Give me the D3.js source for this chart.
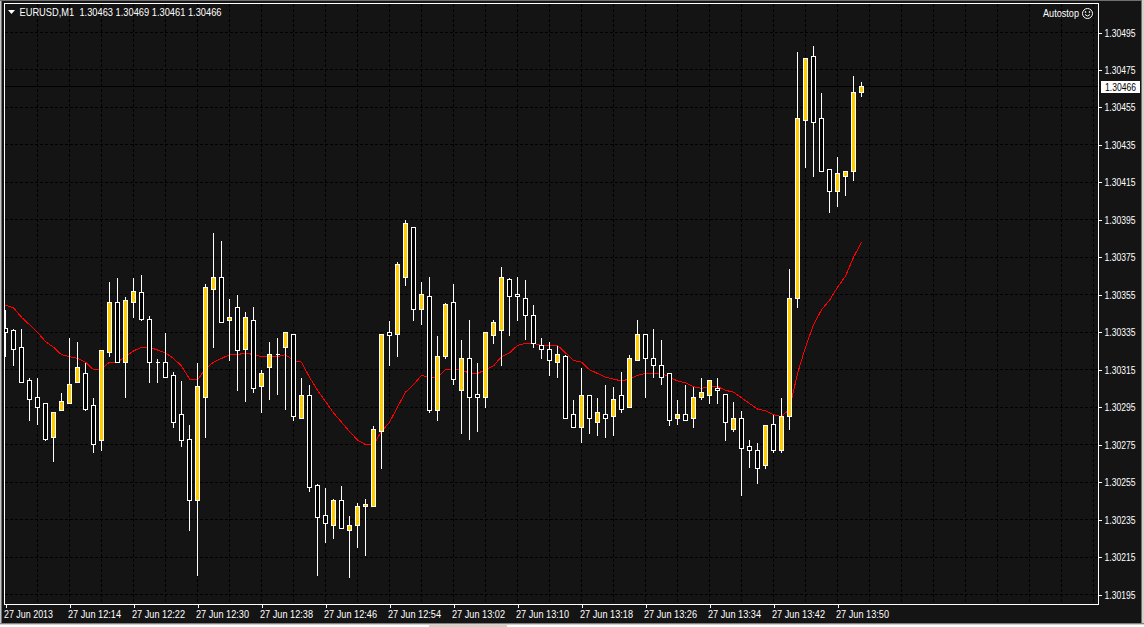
<!DOCTYPE html>
<html>
<head>
<meta charset="utf-8">
<title>EURUSD,M1</title>
<script src="https://cdn.jsdelivr.net/npm/d3@7"></script>
<style>
  html, body { margin: 0; padding: 0; background: #141414; overflow: hidden; }
  svg { display: block; }
  text { font-family: "Liberation Sans", sans-serif; font-size: 11px; fill: #fff; }
  .crisp { shape-rendering: crispEdges; }
</style>
</head>
<body>
<div id="chart"></div>
<script>
const opens = [1.30337,1.30336,1.30327,1.30309,1.30300,1.30297,1.30279,1.30293,1.30297,1.30308,1.30313,1.30296,1.30277,1.30324,1.30351,1.30319,1.30351,1.30356,1.30342,1.30319,1.30319,1.30312,1.30291,1.30278,1.30245,1.30300,1.30358,1.30364,1.30341,1.30348,1.30326,1.30341,1.30306,1.30316,1.30323,1.30327,1.30334,1.30289,1.30301,1.30253,1.30237,1.30232,1.30245,1.30229,1.30232,1.30242,1.30242,1.30282,1.30335,1.30334,1.30364,1.30391,1.30347,1.30354,1.30293,1.30322,1.30351,1.30304,1.30321,1.30302,1.30300,1.30333,1.30336,1.30363,1.30355,1.30353,1.30344,1.30328,1.30326,1.30319,1.30322,1.30291,1.30284,1.30301,1.30287,1.30291,1.30290,1.30301,1.30295,1.30320,1.30334,1.30321,1.30317,1.30313,1.30289,1.30291,1.30289,1.30300,1.30301,1.30305,1.30302,1.30283,1.30289,1.30274,1.30272,1.30264,1.30286,1.30272,1.30290,1.30353,1.30448,1.30482,1.30449,1.30422,1.30410,1.30418,1.30421,1.30463];
const highs = [1.30347,1.30337,1.30337,1.30311,1.30311,1.30297,1.30292,1.30303,1.30332,1.30330,1.30319,1.30300,1.30325,1.30362,1.30364,1.30354,1.30364,1.30366,1.30344,1.30321,1.30335,1.30314,1.30309,1.30286,1.30319,1.30361,1.30388,1.30384,1.30353,1.30355,1.30346,1.30349,1.30315,1.30330,1.30332,1.30335,1.30334,1.30311,1.30307,1.30254,1.30252,1.30246,1.30253,1.30237,1.30244,1.30246,1.30285,1.30334,1.30341,1.30373,1.30395,1.30391,1.30362,1.30365,1.30333,1.30351,1.30361,1.30331,1.30342,1.30319,1.30335,1.30342,1.30370,1.30364,1.30365,1.30363,1.30350,1.30332,1.30330,1.30328,1.30323,1.30299,1.30316,1.30302,1.30300,1.30307,1.30306,1.30314,1.30323,1.30342,1.30334,1.30337,1.30331,1.30313,1.30299,1.30307,1.30306,1.30311,1.30309,1.30311,1.30302,1.30298,1.30293,1.30278,1.30276,1.30285,1.30291,1.30300,1.30369,1.30485,1.30481,1.30488,1.30463,1.30422,1.30429,1.30421,1.30472,1.30469];
const lows = [1.30322,1.30317,1.30308,1.30288,1.30286,1.30277,1.30266,1.30293,1.30297,1.30308,1.30293,1.30271,1.30272,1.30322,1.30319,1.30300,1.30343,1.30341,1.30308,1.30308,1.30311,1.30284,1.30274,1.30229,1.30205,1.30279,1.30327,1.30340,1.30320,1.30304,1.30298,1.30303,1.30292,1.30299,1.30302,1.30294,1.30288,1.30289,1.30250,1.30205,1.30223,1.30225,1.30230,1.30204,1.30220,1.30216,1.30242,1.30262,1.30317,1.30322,1.30360,1.30341,1.30339,1.30292,1.30288,1.30321,1.30307,1.30281,1.30278,1.30282,1.30295,1.30329,1.30317,1.30333,1.30341,1.30331,1.30327,1.30321,1.30312,1.30311,1.30289,1.30284,1.30276,1.30281,1.30280,1.30279,1.30280,1.30292,1.30295,1.30320,1.30300,1.30311,1.30307,1.30285,1.30286,1.30288,1.30284,1.30299,1.30297,1.30297,1.30277,1.30282,1.30248,1.30263,1.30254,1.30262,1.30271,1.30271,1.30283,1.30348,1.30423,1.30418,1.30421,1.30399,1.30402,1.30408,1.30416,1.30461];
const closes = [1.30335,1.30326,1.30308,1.30299,1.30295,1.30278,1.30292,1.30298,1.30307,1.30316,1.30294,1.30275,1.30325,1.30351,1.30319,1.30352,1.30357,1.30342,1.30319,1.30319,1.30311,1.30287,1.30277,1.30245,1.30306,1.30359,1.30364,1.30340,1.30343,1.30325,1.30343,1.30305,1.30313,1.30323,1.30323,1.30335,1.30290,1.30301,1.30252,1.30236,1.30233,1.30245,1.30230,1.30232,1.30242,1.30243,1.30283,1.30334,1.30333,1.30371,1.30393,1.30347,1.30355,1.30293,1.30322,1.30350,1.30310,1.30321,1.30300,1.30300,1.30335,1.30340,1.30364,1.30354,1.30354,1.30344,1.30329,1.30326,1.30320,1.30323,1.30289,1.30284,1.30301,1.30289,1.30292,1.30289,1.30299,1.30294,1.30321,1.30334,1.30321,1.30317,1.30311,1.30288,1.30291,1.30288,1.30300,1.30303,1.30309,1.30304,1.30287,1.30289,1.30273,1.30272,1.30262,1.30285,1.30272,1.30290,1.30353,1.30449,1.30481,1.30447,1.30421,1.30410,1.30420,1.30421,1.30463,1.30466];
// red moving average, one value per bar
const average = [1.303495,1.30348,1.30343,1.30339,1.30335,1.30330,1.30327,1.30323,1.30322,1.30321,1.30319,1.30315,1.303155,1.30319,1.30319,1.30322,1.30325,1.30327,1.30327,1.303255,1.30324,1.30321,1.30317,1.30310,1.303095,1.303155,1.30319,1.30321,1.30323,1.30323,1.30324,1.30323,1.30322,1.30322,1.30322,1.30323,1.30320,1.30319,1.30311,1.30304,1.30298,1.30292,1.30287,1.30282,1.302775,1.30275,1.30275,1.30282,1.30287,1.30295,1.30303,1.30307,1.30312,1.30311,1.30311,1.30315,1.30315,1.30315,1.30313,1.30313,1.30315,1.30317,1.30322,1.30324,1.30328,1.30329,1.30329,1.30328,1.30328,1.30328,1.30324,1.30320,1.30319,1.30315,1.30313,1.30311,1.30310,1.30309,1.30310,1.30312,1.30313,1.30313,1.30313,1.30311,1.30309,1.30308,1.30306,1.30305,1.30306,1.30306,1.30304,1.30303,1.30300,1.30297,1.30294,1.30293,1.30291,1.30290,1.30294,1.30313,1.30327,1.30339,1.30347,1.30352,1.30359,1.30365,1.30375,1.30383];

const yTicks = [1.30495,1.30475,1.30455,1.30435,1.30415,1.30395,1.30375,1.30355,1.30335,1.30315,1.30295,1.30275,1.30255,1.30235,1.30215,1.30195];
const xTickBars = [0,8,16,24,32,40,48,56,64,72,80,88,96,104];
const xTickLabels = ['27 Jun 2013','27 Jun 12:14','27 Jun 12:22','27 Jun 12:30','27 Jun 12:38','27 Jun 12:46','27 Jun 12:54','27 Jun 13:02','27 Jun 13:10','27 Jun 13:18','27 Jun 13:26','27 Jun 13:34','27 Jun 13:42','27 Jun 13:50'];
const gridBars = d3.range(4, 137, 4); // one vertical grid line every 4 bars
const header = 'EURUSD,M1  1.30463 1.30469 1.30461 1.30466';
const lastPrice = 1.30466;

const width = 1144;
const height = 627;
const frame = { left: 4.5, top: 3.5, right: 1098.5, bottom: 604.5 };

const svg = d3.select('#chart').append('svg')
  .attr('width', width)
  .attr('height', height)
  .attr('viewBox', `0 0 ${width} ${height}`);

const xScale = d3.scaleLinear().domain([0, 107]).range([5.5, 861.5]);
const yScale = d3.scaleLinear().domain([1.30495, 1.30195]).range([32.5, 594.5]);
const snap = (v) => Math.round(v - 0.5) + 0.5;

svg.append('rect').attr('width', width).attr('height', height).attr('fill', '#141414');

// window edges around the chart
const edges = svg.append('g').attr('class', 'crisp');
edges.append('rect').attr('x', 0).attr('y', 0).attr('width', 1).attr('height', 623).attr('fill', '#c8c8c8');
edges.append('rect').attr('x', 1).attr('y', 0).attr('width', 1).attr('height', 623).attr('fill', '#707070');
edges.append('rect').attr('x', 0).attr('y', 0).attr('width', width).attr('height', 1).attr('fill', '#707070');
edges.append('rect').attr('x', 1141).attr('y', 0).attr('width', 1).attr('height', 623).attr('fill', '#707070');
edges.append('rect').attr('x', 1142).attr('y', 0).attr('width', 2).attr('height', 623).attr('fill', '#d4d0c8');
edges.append('rect').attr('x', 0).attr('y', 623).attr('width', width).attr('height', 1).attr('fill', '#808080');
edges.append('rect').attr('x', 0).attr('y', 624).attr('width', width).attr('height', 3).attr('fill', '#d4d0c8');
edges.append('rect').attr('x', 0).attr('y', 625).attr('width', 429).attr('height', 2).attr('fill', '#ffffff');
edges.append('rect').attr('x', 507).attr('y', 625).attr('width', 637).attr('height', 2).attr('fill', '#ffffff');

const plot = svg.append('g');
svg.append('clipPath').attr('id', 'plot-clip').append('rect')
  .attr('x', frame.left).attr('y', frame.top)
  .attr('width', frame.right - frame.left).attr('height', frame.bottom - frame.top);
plot.attr('clip-path', 'url(#plot-clip)');

// dashed grid
const grid = plot.append('g').attr('class', 'crisp')
  .attr('stroke', '#000').attr('stroke-dasharray', '3,2');
grid.selectAll('.h').data(yTicks).join('line').attr('class', 'h')
  .attr('x1', frame.left).attr('x2', frame.right)
  .attr('y1', (d) => snap(yScale(d))).attr('y2', (d) => snap(yScale(d)));
grid.selectAll('.v').data(gridBars).join('line').attr('class', 'v')
  .attr('x1', (d) => xScale(d)).attr('x2', (d) => xScale(d))
  .attr('y1', frame.top).attr('y2', frame.bottom);

// last price line
plot.append('line').attr('class', 'crisp')
  .attr('x1', frame.left).attr('x2', frame.right)
  .attr('y1', snap(yScale(lastPrice))).attr('y2', snap(yScale(lastPrice)))
  .attr('stroke', '#000');

// moving average
const maLine = d3.line().x((d, i) => xScale(i)).y((d) => yScale(d));
plot.append('path').datum(average).attr('class', 'crisp')
  .attr('d', maLine).attr('fill', 'none').attr('stroke', '#ff0000');

// candles
const bars = opens.map((o, i) => ({ i, o, h: highs[i], l: lows[i], c: closes[i] }));
const candles = plot.append('g').attr('class', 'crisp');
candles.selectAll('.wick').data(bars).join('line').attr('class', 'wick')
  .attr('x1', (d) => xScale(d.i)).attr('x2', (d) => xScale(d.i))
  .attr('y1', (d) => snap(yScale(d.h))).attr('y2', (d) => snap(yScale(d.l)))
  .attr('stroke', '#fff');
candles.selectAll('.body').data(bars).join('path').attr('class', 'body')
  .attr('d', (d) => {
    const top = snap(yScale(Math.max(d.o, d.c)));
    const bottom = snap(yScale(Math.min(d.o, d.c)));
    const x = xScale(d.i);
    return `M${x - 2},${top}H${x + 2}V${bottom}H${x - 2}Z`;
  })
  .attr('fill', (d) => (d.c > d.o ? '#ffcc00' : '#000'))
  .attr('stroke', '#fff');

// frame
svg.append('rect').attr('class', 'crisp')
  .attr('x', frame.left).attr('y', frame.top)
  .attr('width', frame.right - frame.left).attr('height', frame.bottom - frame.top)
  .attr('fill', 'none').attr('stroke', '#fff');

// axes
const yAxis = d3.axisRight(yScale).tickValues(yTicks).tickSize(3).tickPadding(3).tickFormat(d3.format('.5f'));
const yG = svg.append('g').attr('transform', `translate(${frame.right},0)`).call(yAxis);
yG.select('.domain').remove();
yG.selectAll('line').attr('stroke', '#fff').attr('class', 'crisp');
yG.selectAll('text').attr('fill', '#fff').attr('textLength', 31).attr('lengthAdjust', 'spacingAndGlyphs');

const xAxis = d3.axisBottom(xScale).tickValues(xTickBars).tickSize(3).tickPadding(3)
  .tickFormat((d, i) => xTickLabels[i]);
const xG = svg.append('g').attr('transform', `translate(0,${frame.bottom})`).call(xAxis);
xG.select('.domain').remove();
xG.selectAll('line').attr('stroke', '#fff').attr('class', 'crisp');
xG.selectAll('text').attr('fill', '#fff').attr('text-anchor', 'start').attr('dx', -2)
  .attr('textLength', (d, i) => (i === 0 ? 49 : 53)).attr('lengthAdjust', 'spacingAndGlyphs');

// last price label
svg.append('rect').attr('class', 'crisp')
  .attr('x', 1101).attr('y', 81).attr('width', 39).attr('height', 12).attr('fill', '#fff');
svg.append('text').attr('x', 1105).attr('y', 91)
  .attr('textLength', 31).attr('lengthAdjust', 'spacingAndGlyphs')
  .style('fill', '#000').text(d3.format('.5f')(lastPrice));

// header
svg.append('path').attr('d', 'M8,10H15L11.5,14Z').attr('fill', '#fff');
svg.append('text').attr('x', 19.5).attr('y', 16).attr('xml:space', 'preserve')
  .style('white-space', 'pre').attr('textLength', 202).attr('lengthAdjust', 'spacingAndGlyphs')
  .text(header);

// autostop and its smiley
svg.append('text').attr('x', 1043).attr('y', 17)
  .attr('textLength', 36).attr('lengthAdjust', 'spacingAndGlyphs').text('Autostop');
const smiley = svg.append('g').attr('transform', 'translate(1087.5,13.5)').attr('fill', 'none').attr('stroke', '#fff');
smiley.append('circle').attr('r', 5);
smiley.append('path').attr('d', 'M-2.5,1Q0,4 2.5,1');
smiley.append('circle').attr('cx', -2).attr('cy', -1.5).attr('r', 0.5);
smiley.append('circle').attr('cx', 2).attr('cy', -1.5).attr('r', 0.5);
</script>
</body>
</html>
